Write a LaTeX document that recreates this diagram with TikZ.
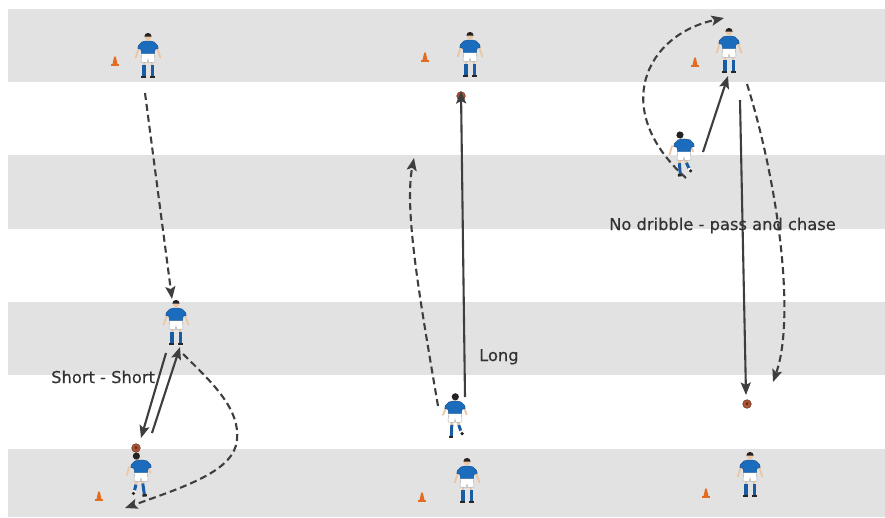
\documentclass[tikz,border=0pt]{standalone}
\usepackage{fontspec}
\setmainfont{DejaVu Sans}
\newfontfamily\labelfont[FakeBold=0.4]{DejaVu Sans}
\usetikzlibrary{arrows.meta}

\definecolor{band}{RGB}{226,226,226}
\definecolor{ink}{RGB}{62,62,62}
\definecolor{shirt}{RGB}{28,108,190}
\definecolor{sock}{RGB}{24,92,165}
\definecolor{skin}{RGB}{236,198,162}
\definecolor{hair}{RGB}{38,34,34}
\definecolor{conecol}{RGB}{228,108,32}
\definecolor{leather}{RGB}{172,84,52}

\tikzset{
  % shared upper body: shorts, shirt, neck
  kit/.pic={
    \filldraw[fill=white, draw=black!35, line width=0.4pt]
      (-6.4,-25) -- (6.4,-25) -- (7,-16) -- (0.9,-15.4) -- (0,-18.8)
      -- (-0.9,-15.4) -- (-7,-16) -- cycle;
    \filldraw[fill=shirt, draw=shirt!70!black, line width=0.4pt]
      (-2.2,-37) -- (2.2,-37) -- (6.2,-36) -- (9.6,-32.6) -- (10.2,-29.6) -- (7,-28.6)
      -- (6.4,-24.5) -- (-6.4,-24.5) -- (-7,-28.6) -- (-10.2,-29.6) -- (-9.6,-32.6)
      -- (-6.2,-36) -- cycle;
    \fill[skin] (-1.4,-38.5) rectangle (1.4,-36.6);
  },
  % player facing the viewer, origin between the boots
  standing/.pic={
    \fill[black!85] (-7.2,0) rectangle (-2,-2.3);
    \fill[black!85] (2,0) rectangle (7.2,-2.3);
    \fill[sock] (-5.6,-2) rectangle (-2.5,-13);
    \fill[sock] (2.5,-2) rectangle (5.6,-13);
    \fill[skin] (-5.4,-12.8) rectangle (-2.7,-16.5);
    \fill[skin] (2.7,-12.8) rectangle (5.4,-16.5);
    \draw[skin, line width=1.8pt, line cap=round] (-8.8,-31) -- (-12.3,-20.5);
    \draw[skin, line width=1.8pt, line cap=round] (8.8,-31) -- (12.3,-20.5);
    \pic {kit};
    \fill[skin] (0,-41.3) circle[radius=3.4];
    \fill[hair] (-3.6,-41.5) arc[start angle=180, end angle=360, radius=3.6] -- cycle;
  },
  % player running away from the viewer
  runner/.pic={
    \draw[skin, line width=2.8pt] (-3,-16.5) -- (-3.2,-12.8);
    \draw[sock, line width=3pt] (-3.2,-13.2) -- (-3.6,-2);
    \fill[black!85] (-6,0) rectangle (-1.6,-2.4);
    \draw[skin, line width=2.8pt] (3,-16.5) -- (3.8,-12.5);
    \draw[sock, line width=3pt] (3.8,-12.8) -- (5.8,-7);
    \draw[white, line width=2.8pt] (5.8,-7.3) -- (6.6,-5);
    \fill[black!85] (7.1,-4.4) circle[radius=1.8];
    \draw[skin, line width=1.8pt, line cap=round] (-8.8,-31) -- (-12,-23);
    \draw[skin, line width=1.8pt, line cap=round] (8.8,-31) -- (11.6,-23.5);
    \pic {kit};
    \fill[hair] (0.3,-41.2) circle[radius=3.6];
  },
  cone/.pic={
    \fill[conecol] (-4.2,0) rectangle (4.2,-1.6);
    \fill[conecol] (-2.6,-1.5) -- (-0.8,-9.5) -- (0.8,-9.5) -- (2.6,-1.5) -- cycle;
  },
  ball/.pic={
    \filldraw[fill=leather, draw=leather!60!black, line width=0.5pt] (0,0) circle[radius=4.3];
    \fill[leather!55!black] (-1.3,-0.8) -- (0,-1.9) -- (1.3,-0.8) -- (0.8,0.9) -- (-0.8,0.9) -- cycle;
  }
}

\begin{document}
\begin{tikzpicture}[x=1pt, y=-1pt,
  pass/.style={draw=ink, line width=2.1pt, -{Stealth[length=12.5pt, width=10pt, inset=2.5pt]}},
  run/.style={pass, dash pattern=on 7pt off 4pt},
  caption/.style={anchor=base west, inner sep=0pt, text=ink!80!black,
    font=\labelfont\fontsize{16.3}{19}\selectfont}]

\useasboundingbox (0,0) rectangle (885,517);
\fill[white] (0,0) rectangle (885,517);

% pitch stripes
\fill[band] (8,9)   rectangle (885,82);
\fill[band] (8,155) rectangle (885,229);
\fill[band] (8,302) rectangle (885,375);
\fill[band] (8,449) rectangle (885,517);

% cones
\pic at (115,66)  {cone};
\pic at (99,501)  {cone};
\pic at (425,62)  {cone};
\pic at (422,502) {cone};
\pic at (695,67)  {cone};
\pic at (706,498) {cone};

% balls
\pic at (136,448) {ball};
\pic at (461,96)  {ball};
\pic at (747,404) {ball};

% players
\pic at (148,78)  {standing};
\pic at (176,345) {standing};
\pic[xscale=-1, rotate=-6] at (141,497) {runner};
\pic at (470,77)  {standing};
\pic at (455,438) {runner};
\pic at (467,503) {standing};
\pic at (729,73)  {standing};
\pic[rotate=6] at (684,176) {runner};
\pic at (750,497) {standing};

% connector end points
\coordinate (a1s) at (145,93);   \coordinate (a1e) at (172,299);
\coordinate (s1s) at (166,353);  \coordinate (s1e) at (141,438);
\coordinate (s2s) at (152,433);  \coordinate (s2e) at (180,347);
\coordinate (c1s) at (183,354);  \coordinate (c1m) at (237,440);
\coordinate (c1e) at (125,508);
\coordinate (s3s) at (465,397);  \coordinate (s3e) at (461,91);
\coordinate (c2s) at (438,406);  \coordinate (c2e) at (414,158);
\coordinate (c3s) at (686,178);  \coordinate (c3e) at (724,18);
\coordinate (s4s) at (703,152);  \coordinate (s4e) at (728,76);
\coordinate (s5s) at (740,100);  \coordinate (s5e) at (746,395);
\coordinate (c4s) at (747,84);   \coordinate (c4e) at (773,382);

% column one: runs and passes
\draw[run]  (a1s) -- (a1e);
\draw[pass] (s1s) -- (s1e);
\draw[pass] (s2s) -- (s2e);
\draw[run]  (c1s) .. controls (215,385) and (240,410) .. (c1m)
                  .. controls (234,470) and (190,485) .. (c1e);

% column two
\draw[pass] (s3s) -- (s3e);
\draw[run]  (c2s) .. controls (420,300) and (404,210) .. (c2e);

% column three
\draw[run]  (c3s) .. controls (610,110) and (645,35) .. (c3e);
\draw[pass] (s4s) -- (s4e);
\draw[pass] (s5s) -- (s5e);
\draw[run]  (c4s) .. controls (780,190) and (795,320) .. (c4e);

% labels
\node[caption] (lshort) at (51,383)  {Short - Short};
\node[caption] (llong)  at (479,361) {Long};
\node[caption] (lchase) at (609,230) {No dribble - pass and chase};

\end{tikzpicture}
\end{document}
